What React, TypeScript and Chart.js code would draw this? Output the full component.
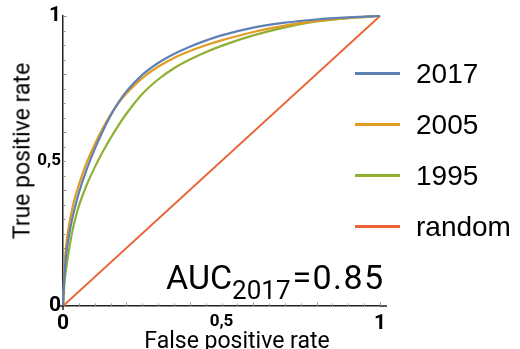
import React, { useEffect, useRef } from "react";
import { Chart, registerables } from "chart.js";

Chart.register(...registerables);

// ---- data ----
const fpr = [0, 0.005, 0.01, 0.02, 0.03, 0.04, 0.05, 0.075, 0.1, 0.125, 0.15, 0.175, 0.2, 0.25, 0.3, 0.35, 0.4, 0.45, 0.5, 0.6, 0.7, 0.8, 0.9, 1];
const tpr2017 = [0, 0.115, 0.175, 0.25, 0.305, 0.35, 0.39, 0.472, 0.541, 0.602, 0.656, 0.702, 0.74, 0.797, 0.838, 0.869, 0.894, 0.915, 0.933, 0.96, 0.977, 0.988, 0.995, 1];
const tpr2005 = [0, 0.14, 0.21, 0.285, 0.34, 0.383, 0.418, 0.495, 0.557, 0.612, 0.66, 0.7, 0.733, 0.786, 0.825, 0.855, 0.879, 0.899, 0.916, 0.945, 0.967, 0.983, 0.993, 1];
const tpr1995 = [0, 0.085, 0.13, 0.2, 0.26, 0.306, 0.345, 0.418, 0.478, 0.531, 0.579, 0.623, 0.663, 0.731, 0.781, 0.82, 0.85, 0.875, 0.897, 0.933, 0.961, 0.981, 0.993, 1];
const randomX = [0, 1];
const randomY = [0, 1];

const seriesNames = ["2017", "2005", "1995", "random"];
const seriesColors = ["#5E81B5", "#E19C24", "#8FB032", "#EB6235"];

const tickLabels: Record<string, string> = { "0": "0", "0.5": "0,5", "1": "1" };
const xTitle = "False positive rate";
const yTitle = "True positive rate";
const aucMain = "AUC";
const aucSub = "2017";
const aucValue = "=0.85";

const toPoints = (xs: number[], ys: number[]) => xs.map((x, i) => ({ x, y: ys[i] }));

const innerTicks = {
  id: "innerTicks",
  afterDraw(chart: any) {
    const { ctx, chartArea, scales } = chart;
    const xs = scales.x;
    const ys = scales.y;
    ctx.save();
    // small axis overshoots
    ctx.strokeStyle = "#222";
    ctx.lineWidth = 1.5;
    ctx.beginPath();
    ctx.moveTo(chartArea.right, chartArea.bottom);
    ctx.lineTo(chartArea.right + 7, chartArea.bottom);
    ctx.moveTo(chartArea.left, chartArea.bottom);
    ctx.lineTo(chartArea.left, chartArea.bottom + 4);
    ctx.moveTo(chartArea.left, chartArea.bottom);
    ctx.lineTo(chartArea.left - 3, chartArea.bottom);
    ctx.stroke();
    ctx.strokeStyle = "#8c8c8c";
    ctx.lineWidth = 1;
    for (let i = 1; i <= 20; i++) {
      const v = i / 20;
      const len = i % 4 === 0 ? 3.5 : 2.5;
      const px = Math.round(xs.getPixelForValue(v)) + 0.5;
      ctx.beginPath();
      ctx.moveTo(px, chartArea.bottom);
      ctx.lineTo(px, chartArea.bottom - len);
      ctx.stroke();
      const py = Math.round(ys.getPixelForValue(v)) + 0.5;
      ctx.beginPath();
      ctx.moveTo(chartArea.left, py);
      ctx.lineTo(chartArea.left + len, py);
      ctx.stroke();
    }
    ctx.restore();
  },
};

const tickFont = (ctx: any) => {
  const v = ctx.tick ? ctx.tick.value : 0;
  const small = Math.abs(v - 0.5) < 1e-6;
  return { family: "Roboto", weight: "bold", size: small ? 17 : 21, lineHeight: 1 };
};
const tickCallback = (value: any) => {
  const key = String(Math.round(Number(value) * 100) / 100);
  return tickLabels[key] ?? "";
};

export default function App() {
  const ref = useRef<HTMLCanvasElement | null>(null);

  useEffect(() => {
    if (!ref.current) return;
    const series = [tpr2017, tpr2005, tpr1995];
    const datasets: any[] = series.map((ys, i) => ({
      label: seriesNames[i],
      data: toPoints(fpr, ys),
      borderColor: seriesColors[i],
      backgroundColor: seriesColors[i],
      borderWidth: 2.2,
      pointRadius: 0,
      fill: false,
      cubicInterpolationMode: "monotone",
      clip: false,
    }));
    datasets.push({
      label: seriesNames[3],
      data: toPoints(randomX, randomY),
      borderColor: seriesColors[3],
      backgroundColor: seriesColors[3],
      borderWidth: 1.8,
      pointRadius: 0,
      fill: false,
      clip: false,
    });

    const chart = new Chart(ref.current, {
      type: "line",
      data: { datasets },
      options: {
        animation: false,
        responsive: false,
        devicePixelRatio: 1,
        layout: { padding: { left: 0, right: 140, top: 16, bottom: 0 } },
        plugins: { legend: { display: false }, tooltip: { enabled: false } },
        scales: {
          x: {
            type: "linear",
            min: 0,
            max: 1,
            afterFit: (s: any) => {
              s.height = 43;
            },
            grid: { display: true, drawOnChartArea: false, drawTicks: false },
            border: { display: true, color: "#222", width: 1.5 },
            ticks: {
              stepSize: 0.05,
              autoSkip: false,
              maxRotation: 0,
              padding: 7,
              color: "#000",
              font: tickFont,
              callback: tickCallback,
            },
          },
          y: {
            type: "linear",
            min: 0,
            max: 1,
            afterFit: (s: any) => {
              s.width = 63;
            },
            grid: { display: true, drawOnChartArea: false, drawTicks: false },
            border: { display: true, color: "#222", width: 1.5 },
            ticks: {
              stepSize: 0.05,
              autoSkip: false,
              padding: 2,
              color: "#000",
              font: tickFont,
              callback: tickCallback,
            },
          },
        },
      } as any,
      plugins: [innerTicks],
    });
    return () => chart.destroy();
  }, []);

  const titleFont = "23px Roboto, sans-serif";

  return (
    <div
      style={{
        position: "fixed",
        left: 0,
        top: 0,
        width: 520,
        height: 349,
        overflow: "hidden",
        background: "#fff",
      }}
    >
      <canvas ref={ref} width={520} height={349} style={{ position: "absolute", left: 0, top: 0 }} />
      <div
        style={{
          position: "absolute",
          left: 237,
          top: 328.7,
          transform: "translateX(-50%)",
          font: titleFont,
          lineHeight: "23px",
          color: "#000",
          whiteSpace: "nowrap",
        }}
      >
        {xTitle}
      </div>
      <div
        style={{
          position: "absolute",
          left: 21.8,
          top: 151,
          transform: "translate(-50%, -50%) rotate(-90deg)",
          font: titleFont,
          lineHeight: "23px",
          color: "#000",
          whiteSpace: "nowrap",
        }}
      >
        {yTitle}
      </div>
      {seriesNames.map((name, i) => {
        const cy = 73.3 + i * 51.2;
        return (
          <React.Fragment key={name}>
            <div
              style={{
                position: "absolute",
                left: 355,
                top: cy - 1.6,
                width: 45,
                height: 3.2,
                background: seriesColors[i],
              }}
            />
            <div
              style={{
                position: "absolute",
                left: 416,
                top: cy - 13.7,
                font: "28px 'Liberation Sans', Arial, sans-serif",
                lineHeight: "28px",
                color: "#000",
                whiteSpace: "nowrap",
              }}
            >
              {name}
            </div>
          </React.Fragment>
        );
      })}
      <div
        style={{
          position: "absolute",
          left: 166,
          top: 259.7,
          font: "34px Roboto, sans-serif",
          lineHeight: "34px",
          color: "#000",
          whiteSpace: "nowrap",
        }}
      >
        {aucMain}
        <span style={{ fontSize: 26, position: "relative", top: 10 }}>{aucSub}</span>
        <span style={{ marginLeft: 2, letterSpacing: 1.4 }}>{aucValue}</span>
      </div>
    </div>
  );
}
